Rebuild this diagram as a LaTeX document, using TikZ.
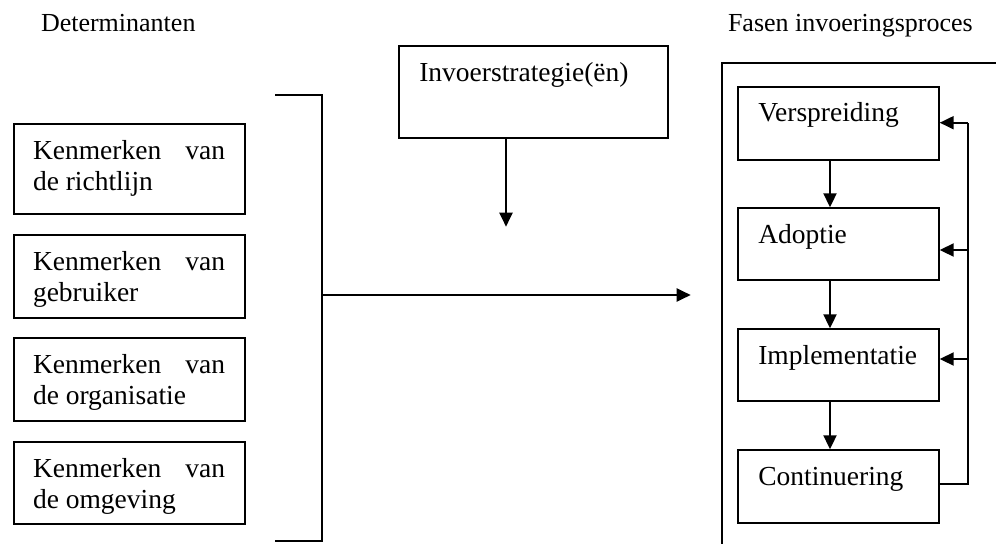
\documentclass[tikz,border=0pt]{standalone}
\usepackage{fontspec}
\setmainfont{Liberation Serif}
\usetikzlibrary{arrows.meta}
\begin{document}
\begin{tikzpicture}[x=1pt,y=-1pt,line width=2pt,
  box/.style={draw, inner sep=0pt, anchor=north west},
  kbox/.style={box, minimum width=231.3pt, minimum height=82.6pt},
  pbox/.style={box, minimum width=201pt, minimum height=72.5pt},
  txt/.style={anchor=base west, inner sep=0pt, font=\fontsize{27.5}{31}\selectfont},
  hdr/.style={anchor=base west, inner sep=0pt, font=\fontsize{26}{31}\selectfont},
  arr/.style={-{Triangle[length=14pt,width=13pt]}}]
\useasboundingbox (0,0) rectangle (996,544);

% headers
\node[hdr] (h1) at (40,31.7) {Determinanten};
\node[hdr] (h2) at (727,31.7) {Fasen invoeringsproces};

% left boxes
\node[box, minimum width=231.3pt, minimum height=90.6pt] (k1) at (12.7,122.7) {};
\node[txt] (t1) at (32,159) {\parbox[t]{192pt}{\makebox[192pt][s]{Kenmerken van}\\de richtlijn}};
\node[kbox] (k2) at (12.7,234) {};
\node[txt] (t2) at (32,270.5) {\parbox[t]{192pt}{\makebox[192pt][s]{Kenmerken van}\\gebruiker}};
\node[kbox] (k3) at (12.7,337.3) {};
\node[txt] (t3) at (32,373.8) {\parbox[t]{192pt}{\makebox[192pt][s]{Kenmerken van}\\de organisatie}};
\node[kbox] (k4) at (12.7,440.7) {};
\node[txt] (t4) at (32,477.2) {\parbox[t]{192pt}{\makebox[192pt][s]{Kenmerken van}\\de omgeving}};

% bracket
\coordinate (bt) at (275,95);
\coordinate (btr) at (321.7,95);
\coordinate (bbr) at (321.7,540.7);
\coordinate (bb) at (275,540.7);
\coordinate (bm) at (321.7,295);
\coordinate (tip) at (690.7,295);
\draw (bt) -- (btr) -- (bbr) -- (bb);
\draw[arr] (bm) -- (tip);

% strategy box
\node[box, minimum width=269.6pt, minimum height=91.7pt] (s) at (397.7,45) {};
\node[txt] (st) at (418.3,81.7) {Invoerstrategie(ën)};
\coordinate (sx) at (506,0);
\coordinate (stip) at (506,226.7);
\draw[arr] (s.south -| sx) -- (stip);

% container
\coordinate (c1) at (996,63.3);
\coordinate (c2) at (721.7,63.3);
\coordinate (c3) at (721.7,544);
\draw (c1) -- (c2) -- (c3);

% phases
\node[pbox, minimum height=72.7pt] (p1) at (736.7,86) {};
\node[txt] (pt1) at (757.3,121.7) {Verspreiding};
\node[pbox, minimum height=72pt] (p2) at (736.7,207.3) {};
\node[txt] (pt2) at (757.3,243) {Adoptie};
\node[pbox, minimum height=71.7pt] (p3) at (736.7,328.3) {};
\node[txt] (pt3) at (757.3,364) {Implementatie};
\node[pbox, minimum height=72.4pt] (p4) at (736.7,449.3) {};
\node[txt] (pt4) at (757.3,485) {Continuering};

\coordinate (ax) at (830,0);
\draw[arr] (p1.south -| ax) -- (p2.north -| ax);
\draw[arr] (p2.south -| ax) -- (p3.north -| ax);
\draw[arr] (p3.south -| ax) -- (p4.north -| ax);

% feedback
\coordinate (fx) at (967.7,0);
\coordinate (f4) at (0,484.3);
\coordinate (f1) at (0,122.7);
\coordinate (f2) at (0,250);
\coordinate (f3) at (0,359);
\draw (p4.east |- f4) -- (fx |- f4) -- (fx |- f1);
\draw[arr] (fx |- f1) -- (p1.east |- f1);
\draw[arr] (fx |- f2) -- (p2.east |- f2);
\draw[arr] (fx |- f3) -- (p3.east |- f3);
\end{tikzpicture}
\end{document}
